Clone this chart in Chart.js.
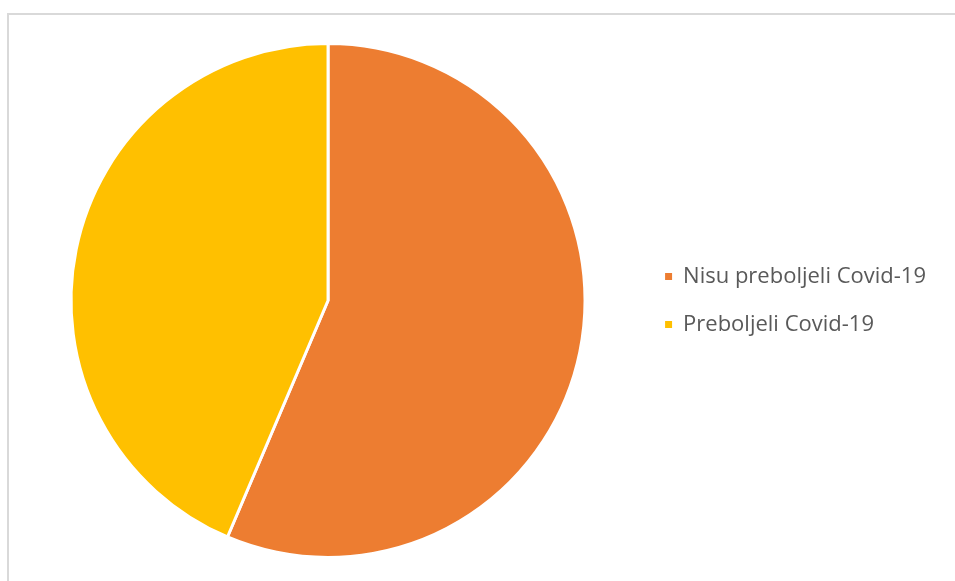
<!DOCTYPE html>
<html>
<head>
<meta charset="utf-8">
<script src="https://cdn.jsdelivr.net/npm/chart.js@4"></script>
<style>
  html, body { margin: 0; padding: 0; background: #fff; overflow: hidden; }
  #frame { position: absolute; left: 7px; top: 13px; width: 1000px; height: 1000px;
           border-left: 2px solid #d9d9d9; border-top: 2px solid #d9d9d9; }
  #chart { position: absolute; left: 0; top: 0; }
</style>
</head>
<body>
<div id="frame"></div>
<canvas id="chart" width="955" height="581"></canvas>
<script>
// podaci procijenjeni sa slike
const labels = ['Nisu preboljeli Covid-19', 'Preboljeli Covid-19'];
const values = [56.4, 43.6];
const colors = ['#ED7D31', '#FFC000'];

const ctx = document.getElementById('chart');
new Chart(ctx, {
  type: 'pie',
  data: {
    labels,
    datasets: [{
      data: values,
      backgroundColor: colors,
      borderColor: '#ffffff',
      borderWidth: 3
    }]
  },
  options: {
    responsive: false,
    animation: false,
    devicePixelRatio: 1,
    layout: { padding: { left: 17, top: 42, bottom: 22, right: 19 } },
    plugins: {
      legend: {
        position: 'right',
        labels: {
          boxWidth: 7,
          boxHeight: 7,
          padding: 26,
          color: '#595959',
          font: { family: 'Open Sans', size: 22 },
          generateLabels(chart) {
            const base = Chart.overrides.pie.plugins.legend.labels.generateLabels(chart);
            return base.map(l => ({ ...l, lineWidth: 0, strokeStyle: l.fillStyle }));
          }
        }
      },
      tooltip: { enabled: false }
    }
  }
});
</script>
</body>
</html>
